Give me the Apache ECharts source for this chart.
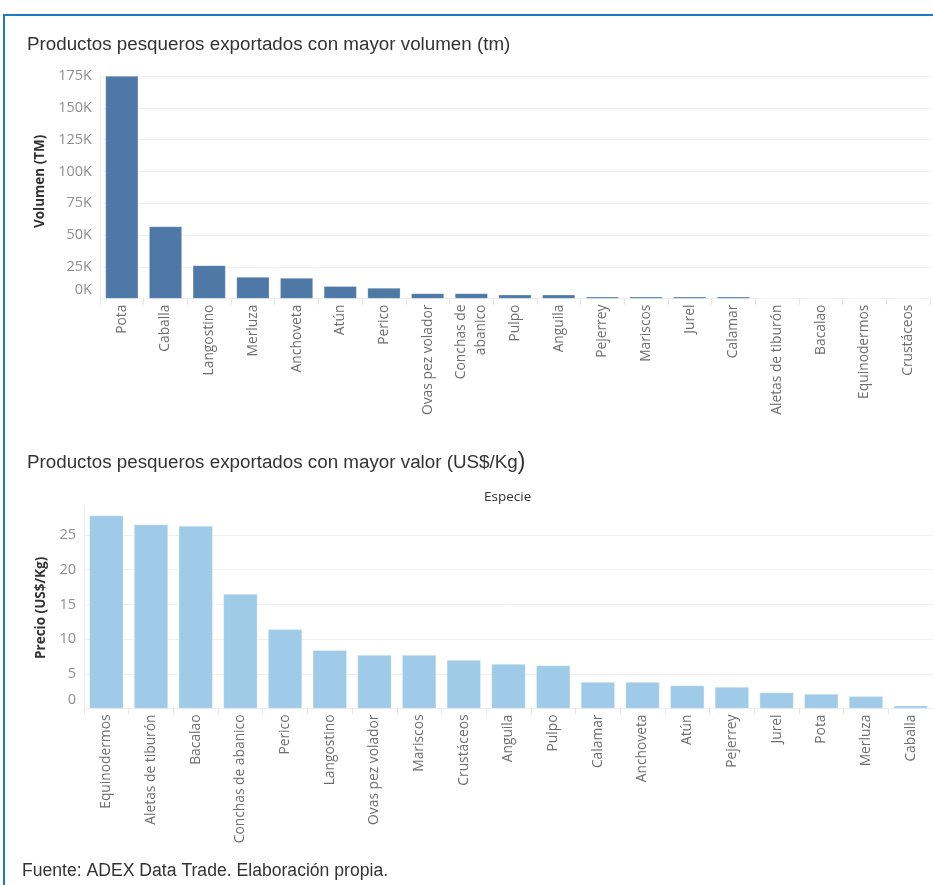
<!DOCTYPE html>
<html>
<head>
<meta charset="utf-8">
<script src="https://cdn.jsdelivr.net/npm/echarts@6/dist/echarts.min.js"></script>
<style>
html,body{margin:0;padding:0;background:#fff;}
#chart{width:933px;height:885px;}
</style>
</head>
<body>
<div id="chart"></div>
<script>
// Top chart: volume (tm)
const volCategories = ['Pota','Caballa','Langostino','Merluza','Anchoveta','Atún','Perico','Ovas pez volador','Conchas de\nabanico','Pulpo','Anguila','Pejerrey','Mariscos','Jurel','Calamar','Aletas de tiburón','Bacalao','Equinodermos','Crustáceos'];
const volValues = [175000,56700,26100,17000,16200,9700,8300,4100,4100,3000,3000,1400,1400,1400,1400,80,60,50,30];
const volTicks = [0,25000,50000,75000,100000,125000,150000,175000];

// Bottom chart: price (US$/Kg)
const priceCategories = ['Equinodermos','Aletas de tiburón','Bacalao','Conchas de abanico','Perico','Langostino','Ovas pez volador','Mariscos','Crustáceos','Anguila','Pulpo','Calamar','Anchoveta','Atún','Pejerrey','Jurel','Pota','Merluza','Caballa'];
const priceValues = [27.8,26.5,26.3,16.5,11.4,8.4,7.7,7.7,7.0,6.4,6.2,3.8,3.8,3.3,3.1,2.3,2.1,1.75,0.4];
const priceTicks = [0,5,10,15,20,25];

const chart = echarts.init(document.getElementById('chart'), null, {renderer:'canvas'});
const FONT = '"Open Sans", "Noto Sans", sans-serif';
const TFONT = '"Liberation Sans", Arial, sans-serif';
const tickLabel = {
  color:'#8f8f8f', fontFamily:FONT, fontSize:14.5, margin:8,
  rich:{ z:{ color:'#8f8f8f', fontFamily:FONT, fontSize:14.5, padding:[0,0,18,0] } }
};
const catLabelTop = { rotate:90, color:'#6e6e6e', fontFamily:FONT, fontSize:13.8, margin:6, interval:0, lineHeight:20 };
const catLabelBottom = { rotate:90, color:'#6e6e6e', fontFamily:FONT, fontSize:13.8, margin:6, interval:0 };

chart.setOption({
  animation:false,
  backgroundColor:'#fff',
  title:[
    { text:'Productos pesqueros exportados con mayor volumen (tm)', left:22, top:30,
      textStyle:{ fontFamily:TFONT, fontSize:18.8, fontWeight:'normal', color:'#333' } },
    { text:'Productos pesqueros exportados con mayor valor (US$/Kg{p|)}', left:22, top:446,
      textStyle:{ fontFamily:TFONT, fontSize:18.8, fontWeight:'normal', color:'#333',
        rich:{ p:{ fontFamily:TFONT, fontSize:23, color:'#333' } } } },
    { text:'Especie', left:479, top:485,
      textStyle:{ fontFamily:FONT, fontSize:13.5, fontWeight:'normal', color:'#333' } },
    { text:'Fuente: ADEX Data Trade. Elaboración propia.', left:17, top:857,
      textStyle:{ fontFamily:TFONT, fontSize:17.6, fontWeight:'normal', color:'#333' } }
  ],
  graphic:[
    { type:'line', shape:{x1:4, y1:15, x2:933, y2:15}, style:{stroke:'#1f7ac6', lineWidth:2} },
    { type:'line', shape:{x1:4, y1:14, x2:4, y2:885}, style:{stroke:'#1f7ac6', lineWidth:2} }
  ],
  grid:[
    { left:100, right:3, top:76, height:222.6 },
    { left:84, right:0, top:507.2, height:201.3 }
  ],
  xAxis:[
    { type:'category', gridIndex:0, data:volCategories,
      axisLine:{show:true, lineStyle:{color:'#eeeeee'}},
      axisTick:{show:true, length:6, lineStyle:{color:'#e4e4e4'}},
      axisLabel:catLabelTop },
    { type:'category', gridIndex:1, data:priceCategories,
      axisLine:{show:true, lineStyle:{color:'#eeeeee'}},
      axisTick:{show:true, length:6, lineStyle:{color:'#e4e4e4'}},
      axisLabel:catLabelBottom }
  ],
  yAxis:[
    { type:'value', gridIndex:0, min:0, max:175000, interval:25000,
      name:'Volumen (TM)', nameLocation:'middle', nameGap:50, nameRotate:90,
      nameTextStyle:{ fontFamily:FONT, fontSize:13.5, fontWeight:'bold', color:'#333', padding:[0,0,0,12] },
      axisLine:{show:true, lineStyle:{color:'#eeeeee'}}, axisTick:{show:false},
      splitLine:{ show:true, lineStyle:{color:'#f0f0f0'} },
      axisLabel:Object.assign({}, tickLabel, {
        customValues: volTicks,
        formatter: v => v === 0 ? '{z|0K}' : (v/1000) + 'K' }) },
    { type:'value', gridIndex:1, min:0, max:29, interval:5,
      name:'Precio (US$/Kg)', nameLocation:'middle', nameGap:35, nameRotate:90,
      nameTextStyle:{ fontFamily:FONT, fontSize:13.5, fontWeight:'bold', color:'#333' },
      axisLine:{show:true, lineStyle:{color:'#eeeeee'}}, axisTick:{show:false},
      splitLine:{ show:true, showMaxLine:false, lineStyle:{color:'#f0f0f0'} },
      axisLabel:Object.assign({}, tickLabel, {
        customValues: priceTicks,
        formatter: v => v === 0 ? '{z|0}' : String(v) }) }
  ],
  series:[
    { type:'bar', xAxisIndex:0, yAxisIndex:0, data:volValues, barCategoryGap:'25%',
      itemStyle:{ color:'#4e79a7', borderColor:'rgba(255,255,255,0.5)', borderWidth:0.5 } },
    { type:'bar', xAxisIndex:1, yAxisIndex:1, data:priceValues, barCategoryGap:'24%',
      itemStyle:{ color:'#a0cbe8', borderColor:'rgba(255,255,255,0.6)', borderWidth:0.5 } }
  ]
});
</script>
</body>
</html>
